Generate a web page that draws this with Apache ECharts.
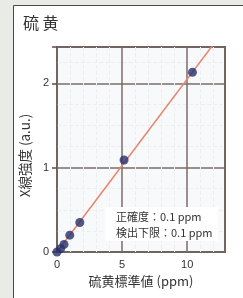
<!DOCTYPE html>
<html>
<head>
<meta charset="utf-8">
<script src="https://cdn.jsdelivr.net/npm/echarts@6/dist/echarts.min.js"></script>
<style>
  html, body { margin: 0; padding: 0; background: #e8ebe6; }
  #chart { width: 243px; height: 298px; }
</style>
</head>
<body>
<div id="chart"></div>
<script>
// 標準試料の測定点
var stdX = [0, 0.28, 0.54, 0.98, 1.75, 5.15, 10.4]
var stdY = [0, 0.04, 0.09, 0.2, 0.35, 1.09, 2.13]
// 検量線
var fitX = [0, 12]
var fitY = [0, 2.46]
var xTicks = [0, 5, 10]
var yTicks = [0, 1, 2]
var notes = ['正確度：0.1 ppm', '検出下限：0.1 ppm']

var font = '"Noto Sans CJK JP", "Liberation Sans", sans-serif'
var chart = echarts.init(document.getElementById('chart'))

var options = {
  backgroundColor: '#e8ebe6',
  animation: false,
  graphic: [
    {
      type: 'rect',
      z: -10,
      shape: { x: 13.5, y: 5.5, width: 240, height: 300 },
      style: { fill: '#fff', stroke: '#4a4a4a', lineWidth: 1 }
    },
    {
      type: 'text',
      left: 23,
      top: 15,
      style: { text: '硫 黄', fill: '#333', font: '16px ' + font }
    },
    {
      type: 'rect',
      z: 100,
      shape: { x: 105, y: 207, width: 113, height: 34 },
      style: { fill: '#fff' }
    },
    {
      type: 'text',
      z: 101,
      x: 116,
      y: 209,
      style: { text: notes.join('\n'), fill: '#333', font: '11px ' + font, lineHeight: 16 }
    }
  ],
  grid: {
    left: 57,
    right: 18,
    top: 47,
    bottom: 46,
    show: true,
    backgroundColor: '#f7f9fb',
    borderColor: '#5a4f4b',
    borderWidth: 2
  },
  xAxis: {
    type: 'value',
    min: 0,
    max: 12.9,
    interval: 5,
    name: '硫黄標準値 (ppm)',
    nameLocation: 'middle',
    nameGap: 21,
    nameTextStyle: { color: '#333', fontSize: 13, fontFamily: font },
    axisLine: { show: false },
    axisTick: { show: false },
    axisLabel: {
      color: '#333',
      fontSize: 11,
      margin: 7,
      formatter: function (v) { return xTicks.indexOf(v) >= 0 ? v : '' }
    },
    splitLine: { lineStyle: { color: '#7a6d68', width: 1.5 } },
    minorTick: { show: false, splitNumber: 5 },
    minorSplitLine: { show: true, lineStyle: { color: '#eceff2', type: 'dashed' } }
  },
  yAxis: {
    type: 'value',
    min: 0,
    max: 2.43,
    interval: 1,
    name: 'X線強度 (a.u.)',
    nameLocation: 'middle',
    nameGap: 19,
    nameTextStyle: { color: '#333', fontSize: 13.5, fontFamily: font, padding: [0, 0, 0, -12] },
    axisLine: { show: false },
    axisTick: { show: true, length: 5, lineStyle: { color: '#5a4f4b', width: 1.5 } },
    axisLabel: {
      color: '#333',
      fontSize: 11,
      margin: 8,
      formatter: function (v) { return yTicks.indexOf(v) >= 0 ? v : '' }
    },
    splitLine: { lineStyle: { color: '#7a6d68', width: 1.5 } },
    minorTick: { show: false, splitNumber: 4 },
    minorSplitLine: { show: true, lineStyle: { color: '#eceff2', type: 'dashed' } }
  },
  series: [
    {
      type: 'line',
      data: fitX.map(function (x, i) { return [x, fitY[i]] }),
      showSymbol: false,
      lineStyle: { color: '#e8846c', width: 1.5 },
      clip: true,
      z: 2
    },
    {
      type: 'scatter',
      data: stdX.map(function (x, i) { return [x, stdY[i]] }),
      symbolSize: 9,
      itemStyle: { color: '#27306a' },
      clip: false,
      z: 3
    }
  ]
}

chart.setOption(options)
</script>
</body>
</html>
